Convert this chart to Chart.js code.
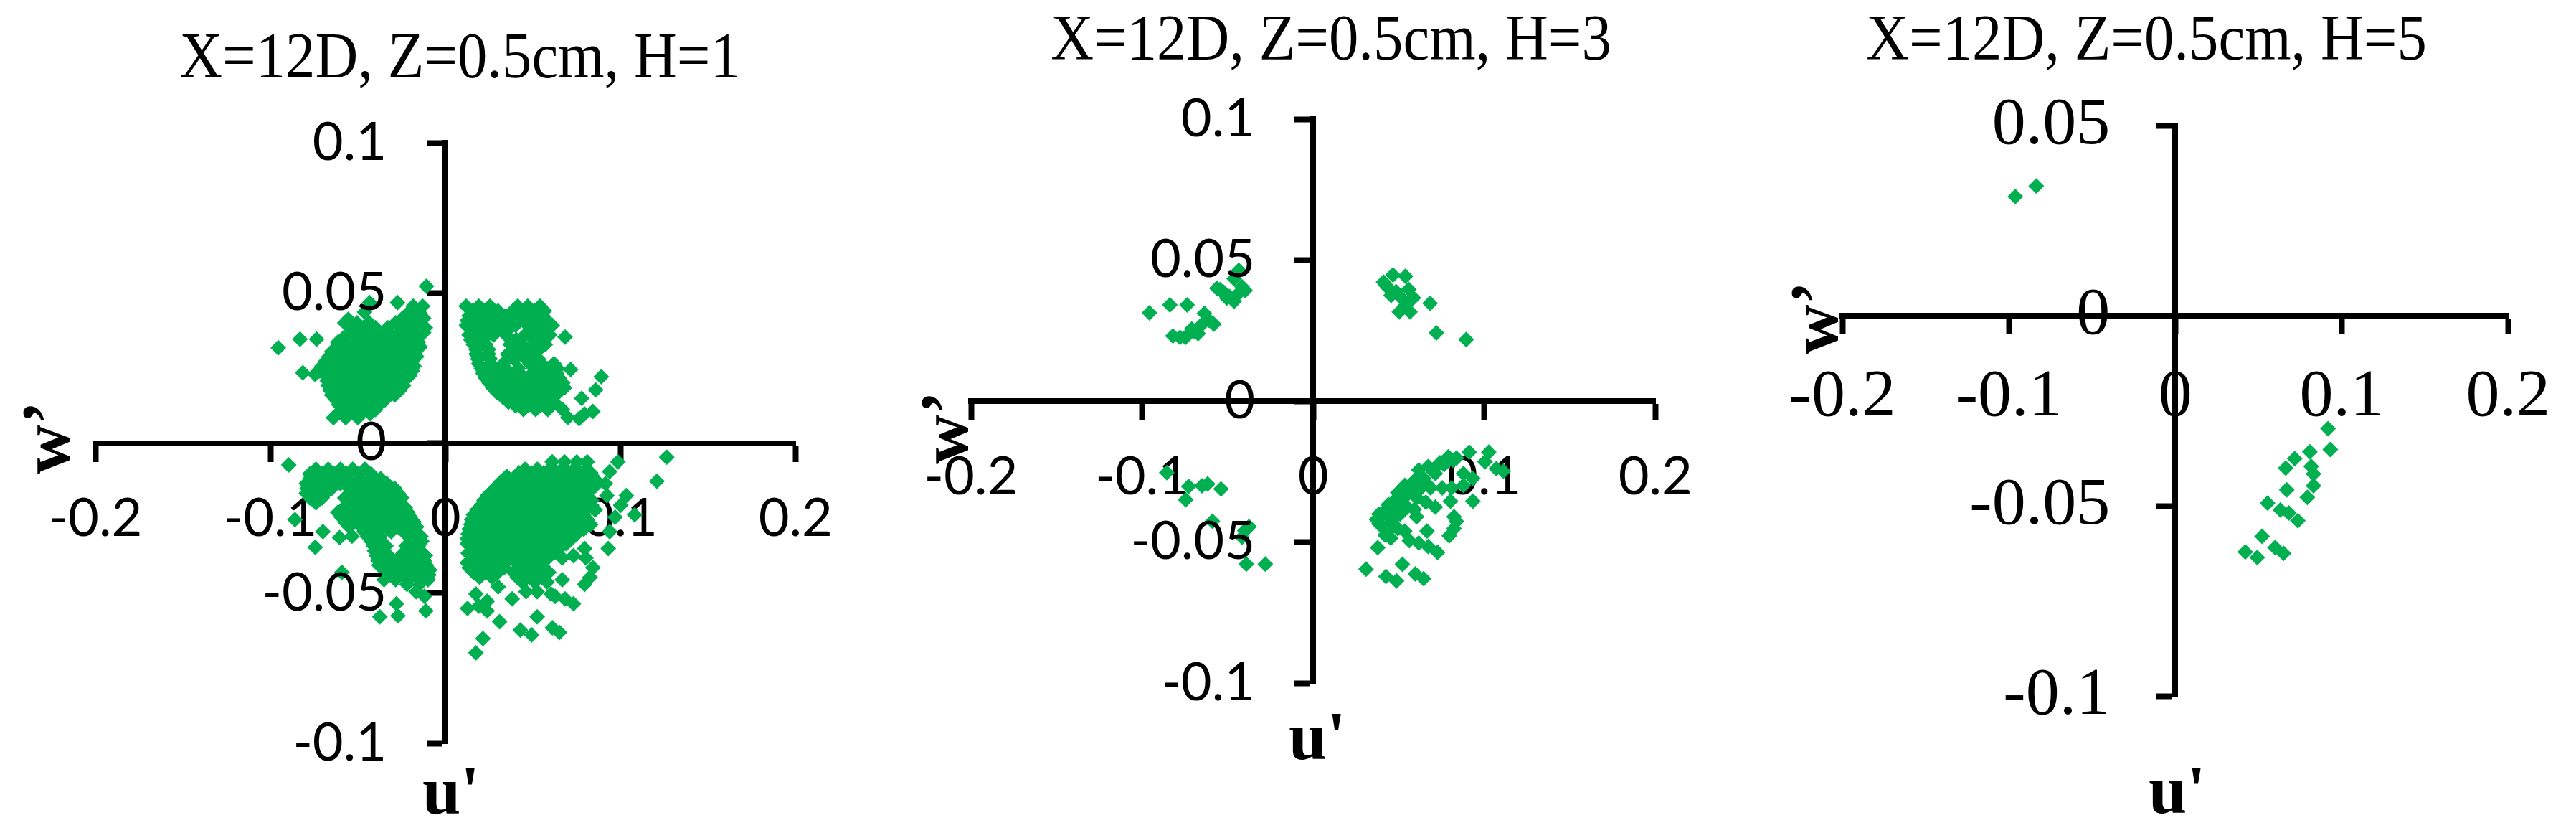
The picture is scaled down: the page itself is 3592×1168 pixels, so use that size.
<!DOCTYPE html>
<html>
<head>
<meta charset="utf-8">
<script src="https://cdn.jsdelivr.net/npm/chart.js@4"></script>
<style>
  body { margin: 0; background: #fff; }
  #wrap { position: relative; width: 3592px; height: 1168px; overflow: hidden; }
  canvas { position: absolute; top: 0; }
</style>
</head>
<body>
<div id="wrap">
  <canvas id="c1" width="1200" height="1168" style="left:0"></canvas>
  <canvas id="c2" width="1200" height="1168" style="left:1200px"></canvas>
  <canvas id="c3" width="1192" height="1168" style="left:2400px"></canvas>
</div>
<script>
// panel titles and tick labels
const panelTitles = ['X=12D, Z=0.5cm, H=1', 'X=12D, Z=0.5cm, H=3', 'X=12D, Z=0.5cm, H=5'];
const xTickValues = [-0.2, -0.1, 0, 0.1, 0.2];
const xTickLabels = ['-0.2', '-0.1', '0', '0.1', '0.2'];
const yTickValues = [-0.1, -0.05, 0, 0.05, 0.1];
const yTickLabels = ['-0.1', '-0.05', '0', '0.05', '0.1'];
const yTickValuesH5 = [-0.1, -0.05, 0, 0.05];
const yTickLabelsH5 = ['-0.1', '-0.05', '0', '0.05'];

// [u', w'] pairs, H=1
const h1Points = [
  // upper left
  [-0.0955,0.0317],[-0.0831,0.0346],[-0.0736,0.0346],[-0.0815,0.0234],[-0.0745,0.0229],
  [-0.0109,0.0522],[-0.0274,0.0468],[-0.0433,0.0468],[-0.0462,0.0436],[-0.0184,0.0456],[-0.0131,0.0456],
  [-0.0215,0.0432],[-0.0145,0.0432],
  [-0.0555,0.0412],[-0.0245,0.0416],[-0.018,0.0416],[-0.0125,0.0416],
  [-0.0575,0.0400],[-0.0505,0.0400],[-0.0435,0.0400],[-0.0285,0.0400],[-0.0215,0.0400],[-0.0145,0.0400],
  [-0.054,0.0384],[-0.047,0.0384],[-0.040,0.0384],[-0.033,0.0384],[-0.025,0.0384],[-0.018,0.0384],[-0.0115,0.0384],
  [-0.054,0.0368],[-0.047,0.0368],[-0.040,0.0368],[-0.033,0.0368],[-0.026,0.0368],[-0.019,0.0368],[-0.0125,0.0368],
  [-0.058,0.0352],[-0.0505,0.0352],[-0.0435,0.0352],[-0.0365,0.0352],[-0.0295,0.0352],[-0.0225,0.0352],[-0.016,0.0352],
  [-0.0615,0.0336],[-0.0575,0.0336],[-0.0505,0.0336],[-0.0435,0.0336],[-0.0365,0.0336],[-0.0295,0.0336],[-0.0225,0.0336],[-0.0155,0.0336],
  [-0.0615,0.0320],[-0.054,0.0320],[-0.047,0.0320],[-0.040,0.0320],[-0.033,0.0320],[-0.026,0.0320],[-0.019,0.0320],[-0.0145,0.0320],
  [-0.065,0.0304],[-0.058,0.0304],[-0.051,0.0304],[-0.044,0.0304],[-0.037,0.0304],[-0.030,0.0304],[-0.023,0.0304],[-0.017,0.0304],
  [-0.0665,0.0288],[-0.0615,0.0288],[-0.0545,0.0288],[-0.0475,0.0288],[-0.0405,0.0288],[-0.0335,0.0288],[-0.0265,0.0288],[-0.0195,0.0288],[-0.0165,0.0288],
  [-0.0685,0.0272],[-0.0615,0.0272],[-0.0545,0.0272],[-0.0475,0.0272],[-0.0405,0.0272],[-0.0335,0.0272],[-0.0265,0.0272],[-0.0195,0.0272],
  [-0.0705,0.0256],[-0.065,0.0256],[-0.058,0.0256],[-0.051,0.0256],[-0.044,0.0256],[-0.037,0.0256],[-0.030,0.0256],[-0.023,0.0256],[-0.018,0.0256],
  [-0.072,0.0240],[-0.065,0.0240],[-0.058,0.0240],[-0.051,0.0240],[-0.044,0.0240],[-0.037,0.0240],[-0.030,0.0240],[-0.023,0.0240],[-0.019,0.0240],
  [-0.0685,0.0224],[-0.0615,0.0224],[-0.0545,0.0224],[-0.0475,0.0224],[-0.0405,0.0224],[-0.0335,0.0224],[-0.0265,0.0224],[-0.0205,0.0224],
  [-0.0675,0.0208],[-0.0605,0.0208],[-0.0535,0.0208],[-0.0465,0.0208],[-0.0395,0.0208],[-0.0325,0.0208],[-0.0255,0.0208],
  [-0.067,0.0192],[-0.064,0.0192],[-0.057,0.0192],[-0.050,0.0192],[-0.043,0.0192],[-0.036,0.0192],[-0.029,0.0192],[-0.024,0.0192],
  [-0.066,0.0176],[-0.059,0.0176],[-0.052,0.0176],[-0.045,0.0176],[-0.038,0.0176],[-0.031,0.0176],[-0.026,0.0176],
  [-0.065,0.0160],[-0.0625,0.0160],[-0.0555,0.0160],[-0.0485,0.0160],[-0.0415,0.0160],[-0.0345,0.0160],[-0.029,0.0160],
  [-0.0625,0.0144],[-0.0555,0.0144],[-0.0485,0.0144],[-0.0415,0.0144],[-0.0345,0.0144],
  [-0.061,0.0128],[-0.059,0.0128],[-0.052,0.0128],[-0.045,0.0128],[-0.038,0.0128],
  [-0.059,0.0112],[-0.052,0.0112],[-0.045,0.0112],[-0.040,0.0112],
  [-0.0615,0.0098],[-0.0555,0.0098],[-0.0485,0.0098],[-0.043,0.0098],
  [-0.064,0.0084],[-0.057,0.0084],[-0.050,0.0084],
  // upper right
  [0.0118,0.0456],[0.019,0.0456],[0.0254,0.0456],[0.0413,0.0456],[0.047,0.0456],[0.054,0.0456],
  [0.0155,0.0440],[0.0225,0.0440],[0.030,0.0440],[0.0385,0.0440],[0.0445,0.0440],[0.051,0.0440],[0.0565,0.0440],
  [0.0135,0.0424],[0.0205,0.0424],[0.0275,0.0424],[0.0345,0.0424],[0.0415,0.0424],[0.0485,0.0424],[0.0555,0.0424],
  [0.0125,0.0408],[0.017,0.0408],[0.024,0.0408],[0.031,0.0408],[0.038,0.0408],[0.045,0.0408],[0.052,0.0408],[0.058,0.0408],
  [0.012,0.0392],[0.019,0.0392],[0.026,0.0392],[0.033,0.0392],[0.040,0.0392],[0.047,0.0392],[0.054,0.0392],[0.061,0.0392],
  [0.0155,0.0376],[0.0225,0.0376],[0.0295,0.0376],[0.0355,0.0376],[0.0505,0.0376],[0.0575,0.0376],
  [0.0135,0.0360],[0.0205,0.0360],[0.0275,0.0360],[0.0345,0.0360],[0.0455,0.0360],[0.0525,0.0360],[0.0595,0.0360],[0.0683,0.0353],
  [0.0145,0.0344],[0.0215,0.0344],[0.0405,0.0344],[0.0505,0.0344],[0.0565,0.0344],
  [0.016,0.0328],[0.023,0.0328],[0.037,0.0328],[0.044,0.0328],[0.051,0.0328],[0.057,0.0328],
  [0.0175,0.0312],[0.0245,0.0312],[0.0395,0.0312],[0.0465,0.0312],[0.0535,0.0312],
  [0.0175,0.0296],[0.0245,0.0296],[0.0355,0.0296],[0.0425,0.0296],[0.0495,0.0296],
  [0.0185,0.0280],[0.0255,0.0280],[0.039,0.0280],[0.046,0.0280],[0.053,0.0280],
  [0.019,0.0264],[0.026,0.0264],[0.033,0.0264],[0.048,0.0264],[0.055,0.0264],[0.062,0.0264],[0.0715,0.0245],
  [0.0205,0.0248],[0.0275,0.0248],[0.0345,0.0248],[0.0415,0.0248],[0.0515,0.0248],[0.0585,0.0248],[0.064,0.0248],
  [0.0215,0.0232],[0.0285,0.0232],[0.0355,0.0232],[0.0425,0.0232],[0.0495,0.0232],[0.0565,0.0232],[0.0635,0.0232],
  [0.023,0.0216],[0.030,0.0216],[0.037,0.0216],[0.044,0.0216],[0.051,0.0216],[0.058,0.0216],[0.065,0.0216],
  [0.025,0.0200],[0.032,0.0200],[0.039,0.0200],[0.046,0.0200],[0.053,0.0200],[0.060,0.0200],[0.067,0.0200],[0.089,0.0221],[0.0858,0.0177],
  [0.027,0.0184],[0.0355,0.0184],[0.0425,0.0184],[0.0495,0.0184],[0.0565,0.0184],[0.0635,0.0184],[0.068,0.0184],
  [0.0295,0.0168],[0.0365,0.0168],[0.0435,0.0168],[0.0505,0.0168],[0.0575,0.0168],[0.0645,0.0168],
  [0.033,0.0152],[0.040,0.0152],[0.047,0.0152],[0.054,0.0152],[0.061,0.0152],
  [0.036,0.0136],[0.043,0.0136],[0.050,0.0136],[0.057,0.0136],[0.062,0.0136],[0.0778,0.0149],
  [0.040,0.0124],[0.047,0.0124],[0.054,0.0124],[0.060,0.0124],
  [0.0445,0.0112],[0.0515,0.0112],[0.0585,0.0112],[0.0842,0.0105],[0.0667,0.0113],
  [0.0699,0.0085],[0.0763,0.0081],[0.0794,0.0097],
  // lower left
  [-0.0895,-0.0073],
  [-0.074,-0.0087],[-0.067,-0.0087],[-0.060,-0.0087],[-0.053,-0.0087],[-0.046,-0.0087],
  [-0.0775,-0.0103],[-0.0705,-0.0103],[-0.0635,-0.0103],[-0.0565,-0.0103],[-0.0495,-0.0103],[-0.0425,-0.0103],
  [-0.0775,-0.0119],[-0.0705,-0.0119],[-0.0635,-0.0119],[-0.0565,-0.0119],[-0.0495,-0.0119],[-0.0425,-0.0119],[-0.037,-0.0119],
  [-0.0795,-0.0135],[-0.074,-0.0135],[-0.067,-0.0135],[-0.060,-0.0135],[-0.052,-0.0135],[-0.045,-0.0135],[-0.038,-0.0135],[-0.0335,-0.0135],
  [-0.079,-0.0151],[-0.072,-0.0151],[-0.065,-0.0151],[-0.055,-0.0151],[-0.048,-0.0151],[-0.041,-0.0151],[-0.034,-0.0151],[-0.029,-0.0151],
  [-0.0795,-0.0167],[-0.0745,-0.0167],[-0.0685,-0.0167],[-0.0535,-0.0167],[-0.0465,-0.0167],[-0.0395,-0.0167],[-0.0325,-0.0167],[-0.027,-0.0167],
  [-0.0775,-0.0183],[-0.0705,-0.0183],[-0.0575,-0.0183],[-0.0505,-0.0183],[-0.0435,-0.0183],[-0.0365,-0.0183],[-0.0295,-0.0183],[-0.025,-0.0183],
  [-0.074,-0.0199],[-0.0545,-0.0199],[-0.047,-0.0199],[-0.040,-0.0199],[-0.033,-0.0199],[-0.0265,-0.0199],
  [-0.058,-0.0215],[-0.051,-0.0215],[-0.044,-0.0215],[-0.037,-0.0215],[-0.030,-0.0215],[-0.023,-0.0215],
  [-0.0615,-0.0231],[-0.0545,-0.0231],[-0.0475,-0.0231],[-0.0405,-0.0231],[-0.0335,-0.0231],[-0.0265,-0.0231],[-0.0215,-0.0231],
  [-0.0595,-0.0247],[-0.0525,-0.0247],[-0.0455,-0.0247],[-0.0385,-0.0247],[-0.0315,-0.0247],[-0.0245,-0.0247],[-0.020,-0.0247],[-0.086,-0.0255],
  [-0.0575,-0.0263],[-0.0505,-0.0263],[-0.0435,-0.0263],[-0.0365,-0.0263],[-0.0295,-0.0263],[-0.0225,-0.0263],[-0.018,-0.0263],
  [-0.055,-0.0279],[-0.048,-0.0279],[-0.041,-0.0279],[-0.034,-0.0279],[-0.027,-0.0279],[-0.020,-0.0279],[-0.0165,-0.0279],
  [-0.070,-0.0295],[-0.0605,-0.0315],[-0.0534,-0.031],
  [-0.0465,-0.0295],[-0.0395,-0.0295],[-0.031,-0.0295],[-0.024,-0.0295],[-0.0175,-0.0295],
  [-0.0445,-0.0311],[-0.0375,-0.0311],[-0.021,-0.0311],[-0.014,-0.0311],
  [-0.0425,-0.0327],[-0.0365,-0.0327],[-0.0175,-0.0327],[-0.0135,-0.0327],
  [-0.041,-0.0343],[-0.034,-0.0343],[-0.0225,-0.0343],[-0.0155,-0.0343],[-0.0744,-0.0347],
  [-0.0405,-0.0359],[-0.035,-0.0359],[-0.0215,-0.0359],[-0.0145,-0.0359],
  [-0.0395,-0.0375],[-0.0325,-0.0375],[-0.0255,-0.0375],[-0.0185,-0.0375],[-0.0115,-0.0375],
  [-0.0385,-0.0391],[-0.0315,-0.0391],[-0.024,-0.0391],[-0.017,-0.0391],[-0.012,-0.0391],
  [-0.038,-0.0407],[-0.031,-0.0407],[-0.024,-0.0407],[-0.017,-0.0407],[-0.011,-0.0407],
  [-0.0345,-0.0423],[-0.0275,-0.0423],[-0.0205,-0.0423],[-0.0135,-0.0423],[-0.009,-0.0423],
  [-0.0315,-0.0439],[-0.0245,-0.0439],[-0.0175,-0.0439],[-0.0095,-0.0439],[-0.0592,-0.0431],
  [-0.0285,-0.0455],[-0.0215,-0.0455],[-0.0145,-0.0455],[-0.010,-0.0455],
  [-0.022,-0.0471],[-0.015,-0.0471],[-0.0351,-0.0455],
  [-0.0168,-0.0495],[-0.012,-0.051],
  [-0.0375,-0.0579],[-0.028,-0.0535],[-0.0271,-0.0575],[-0.0112,-0.0559],
  // lower right
  [0.061,-0.0063],[0.068,-0.0063],[0.075,-0.0063],[0.081,-0.0063],[0.0985,-0.0063],[0.1264,-0.0047],
  [0.0455,-0.0087],[0.0525,-0.0087],[0.0595,-0.0087],[0.0665,-0.0087],[0.0735,-0.0087],[0.0805,-0.0087],[0.0938,-0.0095],
  [0.042,-0.0099],[0.049,-0.0099],[0.056,-0.0099],[0.063,-0.0099],[0.070,-0.0099],[0.077,-0.0099],[0.083,-0.0099],
  [0.035,-0.0111],[0.042,-0.0111],[0.049,-0.0111],[0.056,-0.0111],[0.063,-0.0111],[0.070,-0.0111],[0.077,-0.0111],[0.084,-0.0111],[0.1208,-0.0127],
  [0.032,-0.0127],[0.039,-0.0127],[0.046,-0.0127],[0.053,-0.0127],[0.060,-0.0127],[0.067,-0.0127],[0.074,-0.0127],[0.081,-0.0127],[0.0865,-0.0127],
  [0.0295,-0.0143],[0.0365,-0.0143],[0.0435,-0.0143],[0.0505,-0.0143],[0.0575,-0.0143],[0.0645,-0.0143],[0.0715,-0.0143],[0.0785,-0.0143],[0.0855,-0.0143],[0.0914,-0.0135],
  [0.027,-0.0159],[0.0335,-0.0159],[0.0405,-0.0159],[0.0475,-0.0159],[0.0545,-0.0159],[0.0615,-0.0159],[0.0685,-0.0159],[0.0755,-0.0159],[0.0825,-0.0159],
  [0.024,-0.0175],[0.031,-0.0175],[0.038,-0.0175],[0.045,-0.0175],[0.052,-0.0175],[0.059,-0.0175],[0.066,-0.0175],[0.073,-0.0175],[0.080,-0.0175],[0.0922,-0.0175],[0.1033,-0.0175],
  [0.022,-0.0191],[0.0275,-0.0191],[0.0345,-0.0191],[0.0415,-0.0191],[0.0485,-0.0191],[0.0555,-0.0191],[0.0625,-0.0191],[0.0695,-0.0191],[0.0765,-0.0191],[0.0835,-0.0191],
  [0.0205,-0.0207],[0.0275,-0.0207],[0.0345,-0.0207],[0.0415,-0.0207],[0.0485,-0.0207],[0.0555,-0.0207],[0.0625,-0.0207],[0.0695,-0.0207],[0.0765,-0.0207],[0.0835,-0.0207],[0.1001,-0.0207],
  [0.018,-0.0223],[0.024,-0.0223],[0.031,-0.0223],[0.038,-0.0223],[0.045,-0.0223],[0.052,-0.0223],[0.059,-0.0223],[0.066,-0.0223],[0.073,-0.0223],[0.080,-0.0223],[0.0855,-0.0223],
  [0.016,-0.0239],[0.023,-0.0239],[0.030,-0.0239],[0.037,-0.0239],[0.044,-0.0239],[0.051,-0.0239],[0.058,-0.0239],[0.065,-0.0239],[0.072,-0.0239],[0.079,-0.0239],[0.108,-0.0239],[0.0969,-0.0247],
  [0.015,-0.0255],[0.0195,-0.0255],[0.0265,-0.0255],[0.0335,-0.0255],[0.0405,-0.0255],[0.0475,-0.0255],[0.0545,-0.0255],[0.0615,-0.0255],[0.0685,-0.0255],[0.0755,-0.0255],[0.081,-0.0255],
  [0.0145,-0.0271],[0.0215,-0.0271],[0.0285,-0.0271],[0.0355,-0.0271],[0.0425,-0.0271],[0.0495,-0.0271],[0.0565,-0.0271],[0.0635,-0.0271],[0.0705,-0.0271],[0.0775,-0.0271],[0.083,-0.0271],
  [0.0135,-0.0287],[0.018,-0.0287],[0.025,-0.0287],[0.032,-0.0287],[0.039,-0.0287],[0.046,-0.0287],[0.053,-0.0287],[0.060,-0.0287],[0.067,-0.0287],[0.074,-0.0287],[0.079,-0.0287],
  [0.013,-0.0303],[0.020,-0.0303],[0.027,-0.0303],[0.034,-0.0303],[0.041,-0.0303],[0.048,-0.0303],[0.055,-0.0303],[0.062,-0.0303],[0.069,-0.0303],[0.075,-0.0303],[0.0938,-0.0295],
  [0.0125,-0.0319],[0.0165,-0.0319],[0.0235,-0.0319],[0.0305,-0.0319],[0.0375,-0.0319],[0.0445,-0.0319],[0.0515,-0.0319],[0.0585,-0.0319],[0.0655,-0.0319],[0.072,-0.0319],
  [0.0125,-0.0335],[0.0195,-0.0335],[0.0265,-0.0335],[0.0335,-0.0335],[0.0405,-0.0335],[0.0475,-0.0335],[0.0545,-0.0335],[0.0615,-0.0335],[0.069,-0.0335],[0.0795,-0.0351],[0.093,-0.0351],
  [0.016,-0.0351],[0.023,-0.0351],[0.030,-0.0351],[0.037,-0.0351],[0.044,-0.0351],[0.051,-0.0351],[0.058,-0.0351],[0.065,-0.0351],
  [0.013,-0.0367],[0.020,-0.0367],[0.027,-0.0367],[0.034,-0.0367],[0.041,-0.0367],[0.048,-0.0367],[0.055,-0.0367],[0.062,-0.0367],[0.0731,-0.0375],[0.0802,-0.0383],
  [0.0165,-0.0383],[0.0235,-0.0383],[0.0305,-0.0383],[0.0375,-0.0383],[0.0445,-0.0383],[0.0515,-0.0383],[0.0585,-0.0383],
  [0.0125,-0.0399],[0.0195,-0.0399],[0.0265,-0.0399],[0.0335,-0.0399],[0.0405,-0.0399],[0.0475,-0.0399],[0.0545,-0.0399],[0.0667,-0.0383],[0.0842,-0.0415],
  [0.0135,-0.0415],[0.0195,-0.0415],[0.0265,-0.0415],[0.0335,-0.0415],[0.0425,-0.0415],[0.0495,-0.0415],[0.056,-0.0415],
  [0.016,-0.0431],[0.023,-0.0431],[0.030,-0.0431],[0.039,-0.0431],[0.046,-0.0431],[0.053,-0.0431],[0.059,-0.0431],[0.0826,-0.0447],
  [0.0195,-0.0447],[0.0265,-0.0447],[0.041,-0.0447],[0.048,-0.0447],[0.055,-0.0447],
  [0.044,-0.0463],[0.051,-0.0463],[0.058,-0.0463],[0.0667,-0.0455],[0.0795,-0.0471],
  [0.046,-0.0495],[0.0524,-0.0495],[0.0603,-0.0503],[0.0627,-0.0511],[0.0731,-0.0535],[0.0683,-0.0519],
  [0.0174,-0.0503],[0.0301,-0.0479],[0.0381,-0.0519],[0.0238,-0.0527],[0.0126,-0.0551],[0.019,-0.0543],[0.0238,-0.0559],
  [0.0309,-0.0595],[0.0524,-0.0579],[0.0428,-0.0623],[0.0492,-0.0639],[0.0611,-0.0615],[0.0651,-0.0631],
  [0.0214,-0.0651],[0.0174,-0.0699]
];

// H=3
const h3Points = [
  [-0.0957,0.0313],[-0.0838,0.0341],[-0.0737,0.0341],[-0.082,0.0231],[-0.0779,0.0226],[-0.0747,0.0226],[-0.069,0.0245],
  [-0.0673,0.0239],[-0.071,0.0256],[-0.0636,0.0311],[-0.0609,0.0286],[-0.0581,0.0273],[-0.0655,0.0269],
  [-0.0563,0.0400],[-0.0545,0.0395],[-0.0527,0.0388],[-0.0505,0.0365],[-0.049,0.0371],[-0.0462,0.0354],[-0.0435,0.0383],
  [-0.0416,0.0405],[-0.0462,0.0434],[-0.0435,0.0464],[-0.0398,0.0392],
  [0.0411,0.0422],[0.0425,0.0410],[0.0466,0.0447],[0.0539,0.0443],[0.0439,0.0400],[0.0484,0.0388],[0.0455,0.0375],
  [0.0558,0.0396],[0.0585,0.0366],[0.0521,0.0362],[0.0540,0.0340],[0.0503,0.0316],[0.0566,0.0316],[0.0683,0.0347],
  [0.072,0.0242],[0.0894,0.0218],
  [-0.0856,-0.0254],[-0.0728,-0.0303],[-0.0745,-0.035],[-0.065,-0.030],[-0.0617,-0.0294],[-0.0539,-0.0312],
  [-0.0589,-0.0426],[-0.0375,-0.0445],[-0.040,-0.046],[-0.0416,-0.0483],[-0.0391,-0.0578],[-0.028,-0.0578],
  [0.0912,-0.0181],[0.1026,-0.0181],[0.1004,-0.0215],[0.107,-0.0240],[0.1111,-0.0249],
  [0.0789,-0.0198],[0.0837,-0.0202],[0.0741,-0.0219],[0.0672,-0.0232],[0.0617,-0.0244],
  [0.059,-0.0283],[0.0645,-0.0274],[0.0713,-0.0257],[0.0878,-0.0257],[0.0933,-0.0274],
  [0.0878,-0.0299],[0.0809,-0.0308],[0.0754,-0.0308],[0.0686,-0.0308],[0.0631,-0.0308],[0.0562,-0.0308],
  [0.0494,-0.0325],[0.0549,-0.0333],[0.0604,-0.0342],[0.0439,-0.0367],[0.0494,-0.0376],[0.0549,-0.0376],[0.059,-0.0384],
  [0.0384,-0.0401],[0.0439,-0.041],[0.0508,-0.0401],[0.0384,-0.0435],[0.0439,-0.0443],[0.0494,-0.0452],[0.0453,-0.0486],[0.0535,-0.0461],
  [0.0933,-0.0355],[0.0802,-0.0355],[0.0713,-0.0376],[0.0604,-0.041],[0.0658,-0.0359],
  [0.0823,-0.041],[0.0837,-0.0427],[0.0823,-0.0452],[0.0795,-0.0478],[0.0665,-0.0461],
  [0.0562,-0.0495],[0.0617,-0.0503],[0.0672,-0.0516],[0.0727,-0.0537],
  [0.0377,-0.0520],[0.0309,-0.0596],[0.0425,-0.0622],[0.0487,-0.0638],[0.0521,-0.0579],[0.0597,-0.0613],[0.0645,-0.0630],
  [0.0412,-0.0393],[0.048,-0.035],[0.0535,-0.0299],[0.0658,-0.029],[0.0439,-0.046],[0.037,-0.042],
  [0.0465,-0.038],[0.052,-0.034],[0.058,-0.031],[0.0625,-0.027],[0.0695,-0.0245],[0.0765,-0.0225],[0.0815,-0.021],
  [0.0405,-0.0445],[0.0465,-0.042],[0.042,-0.0475]
];

// H=5
const h5Points = [
  [-0.0961,0.0313],[-0.0835,0.0341],
  [0.0918,-0.0297],[0.0932,-0.0352],[0.0809,-0.0358],[0.0718,-0.0376],[0.0664,-0.0401],[0.0817,-0.0396],
  [0.0831,-0.0416],[0.0831,-0.0447],[0.067,-0.0458],[0.0794,-0.0478],[0.0555,-0.0493],[0.0632,-0.0511],
  [0.0683,-0.0519],[0.0737,-0.0539],[0.0522,-0.058],[0.0421,-0.0621],[0.0493,-0.0636],[0.06,-0.061],[0.0651,-0.0625]
];

const green = '#00b050';

// titles, axis names and the y tick labels beside the vertical axis
const panelText = {
  id: 'panelText',
  afterDraw(chart, args, o) {
    const ctx = chart.ctx;
    const xs = chart.scales.x, ys = chart.scales.y;
    const x0 = xs.getPixelForValue(0);
    ctx.save();
    ctx.fillStyle = '#000';
    ctx.font = o.tickFont;
    ctx.textAlign = 'right';
    ctx.textBaseline = 'middle';
    o.yTicks.forEach((v, i) => ctx.fillText(o.yLabels[i], x0 - o.yGap, ys.getPixelForValue(v)));

    ctx.textAlign = 'center';
    ctx.textBaseline = 'alphabetic';
    ctx.save();
    ctx.translate(o.titleX, o.titleY);
    ctx.scale(0.92, 1);
    ctx.font = '90px "Liberation Serif"';
    ctx.fillText(o.title, 0, 0);
    ctx.restore();

    ctx.font = 'bold 96px "Liberation Serif"';
    ctx.fillText("u'", o.uX, o.uY);
    ctx.translate(o.wX, o.wY);
    ctx.rotate(-Math.PI / 2);
    ctx.fillText('w\u2019', 0, 0);
    ctx.restore();
  }
};

function makePanel(id, points, c) {
  const axisGrid = { drawOnChartArea: false, tickLength: 22, tickWidth: 8, tickColor: '#000' };
  const axisBorder = { display: true, width: 8, color: '#000' };
  return new Chart(document.getElementById(id), {
    type: 'scatter',
    data: {
      datasets: [{
        data: points.map(p => ({ x: p[0], y: p[1] })),
        pointStyle: 'rectRot',
        pointRadius: 11,
        pointHoverRadius: 11,
        backgroundColor: green,
        borderWidth: 0
      }]
    },
    options: {
      responsive: false,
      animation: false,
      events: [],
      layout: { padding: c.pad },
      plugins: {
        legend: { display: false },
        tooltip: { enabled: false },
        panelText: c.text
      },
      scales: {
        x: {
          type: 'linear',
          position: { y: 0 },
          min: -0.2,
          max: 0.2,
          afterBuildTicks: s => { s.ticks = xTickValues.map(v => ({ value: v })); },
          ticks: {
            callback: (v, i) => xTickLabels[i],
            font: c.font,
            color: '#000',
            padding: c.xPad,
            autoSkip: false,
            maxRotation: 0
          },
          grid: axisGrid,
          border: axisBorder
        },
        y: {
          type: 'linear',
          position: { x: 0 },
          min: c.yMin,
          max: c.yMax,
          afterBuildTicks: s => { s.ticks = c.yTicks.map(v => ({ value: v })); },
          ticks: { display: false },
          grid: axisGrid,
          border: axisBorder
        }
      }
    },
    plugins: [panelText]
  });
}

makePanel('c1', h1Points, {
  pad: { left: 133, top: 199, right: 74, bottom: 132 },
  font: { family: 'Lato', size: 74 },
  xPad: 39, yMin: -0.1, yMax: 0.1, yTicks: yTickValues,
  text: { title: panelTitles[0], titleX: 641, titleY: 108, uX: 629, uY: 1134, wX: 96, wY: 610,
          tickFont: '74px Lato', yTicks: yTickValues, yLabels: yTickLabels, yGap: 82 }
});

makePanel('c2', h3Points, {
  pad: { left: 154, top: 166, right: 74, bottom: 216 },
  font: { family: 'Lato', size: 74 },
  xPad: 40, yMin: -0.1, yMax: 0.1, yTicks: yTickValues,
  text: { title: panelTitles[1], titleX: 656, titleY: 83, uX: 637, uY: 1058, wX: 149, wY: 596,
          tickFont: '74px Lato', yTicks: yTickValues, yLabels: yTickLabels, yGap: 81 }
});

makePanel('c3', h5Points, {
  pad: { left: 169, top: 175, right: 89, bottom: 198 },
  font: { family: 'Liberation Serif', size: 94 },
  xPad: 36, yMin: -0.1, yMax: 0.05, yTicks: yTickValuesH5,
  text: { title: panelTitles[2], titleX: 593, titleY: 83, uX: 636, uY: 1133, wX: 162, wY: 443,
          tickFont: '94px "Liberation Serif"', yTicks: yTickValuesH5, yLabels: yTickLabelsH5, yGap: 91 }
});
</script>
</body>
</html>
